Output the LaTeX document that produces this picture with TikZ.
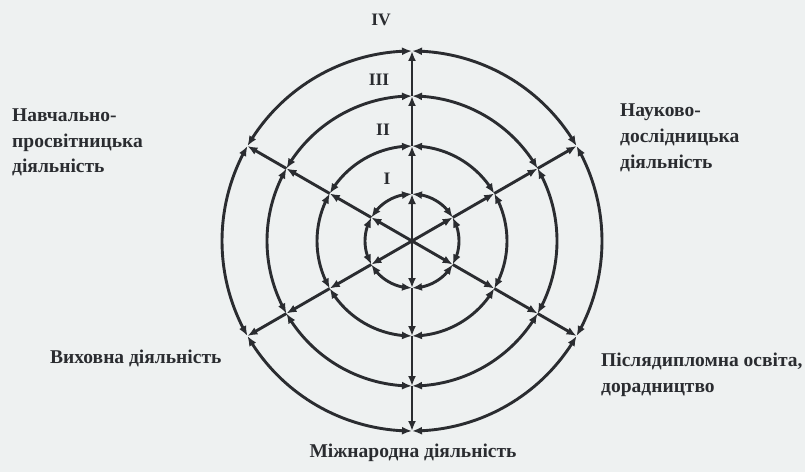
\documentclass[tikz,border=0pt]{standalone}
\usepackage{fontspec}
\setmainfont{Liberation Serif}
\usetikzlibrary{arrows.meta,bending}
\definecolor{ink}{HTML}{2A2C30}
\definecolor{paper}{HTML}{EEF1F1}
\begin{document}
\begin{tikzpicture}[x=1pt,y=1pt,
  ring/.style={draw=ink, line width=2.9pt},
  hd/.tip={Latex[length=10pt,width=8pt]},
  lbl/.style={font=\fontsize{19.5}{25.5}\selectfont\bfseries, text=ink, anchor=base west, inner sep=0pt, align=left},
  num/.style={font=\fontsize{17.5}{17.5}\selectfont\bfseries, text=ink, inner sep=0pt}]
\fill[paper] (0,0) rectangle (805,472);
\useasboundingbox (0,0) rectangle (805,472);
\coordinate (C) at (412,231);
\foreach \k/\r in {1/47,2/95,3/145,4/190}{
  \foreach \a in {30,90,...,330}{
    \coordinate (p\k-\a) at ([shift={(\a:\r)}]C);
  }
}
% rings: double-headed arcs between spokes
\foreach \k/\r in {1/47,2/95,3/145,4/190}{
  \foreach \a in {30,90,...,330}{
    \draw[ring, hd-hd] (p\k-\a) arc[start angle=\a, end angle=\a+60, radius=\r];
  }
}
% spokes
\foreach \a in {30,90,...,330}{
  \draw[ring, -hd] (C) -- (p1-\a);
  \foreach \k/\j in {1/2,2/3,3/4}{
    \draw[ring, -hd] (p\k-\a) -- (p\j-\a);
  }
}
% ring numbers
\node[num] (n4) at (381,452) {IV};
\node[num] (n3) at (379,392) {III};
\node[num] (n2) at (383,342) {II};
\node[num] (n1) at (387,293) {I};
% labels (base = baseline of last line)
\node[lbl] (nav) at (12,299) {Навчально-\\просвітницька\\діяльність};
\node[lbl] (nauk) at (620,304) {Науково-\\дослідницька\\діяльність};
\node[lbl] (vykh) at (50,109) {Виховна діяльність};
\node[lbl] (pisl) at (601,80) {Післядипломна освіта,\\дорадництво};
\node[lbl, anchor=base] (mizh) at (413,15) {Міжнародна діяльність};
\end{tikzpicture}
\end{document}
